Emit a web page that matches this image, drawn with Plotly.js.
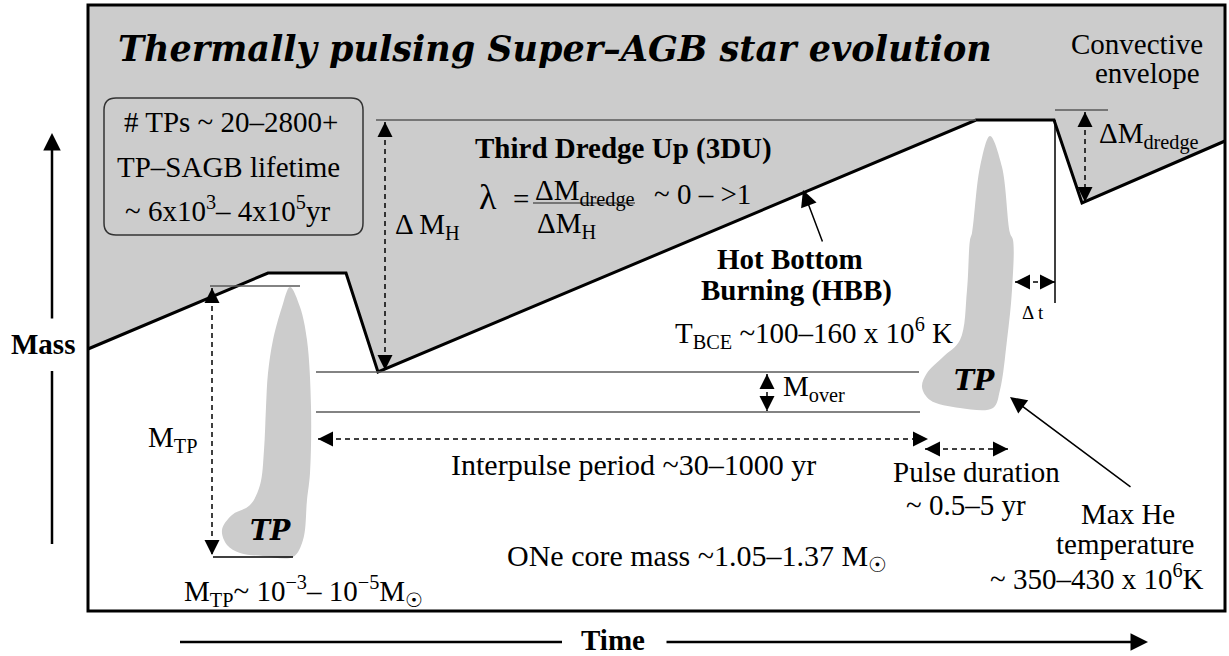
<!DOCTYPE html>
<html><head><meta charset="utf-8">
<script src="https://cdn.plot.ly/plotly-3.0.1.min.js"></script>
<style>html,body{margin:0;padding:0;background:#fff}#chart{width:1229px;height:656px}</style>
</head><body><div id="chart"></div>
<script>
// ---- geometry of the schematic (in picture units) ----
const frameBox = [88, 5, 1225, 611];
const envelopeX = [88, 268, 346, 378, 976, 1054, 1082, 1225];
const envelopeY = [349, 273, 273, 372, 120, 120, 203, 141];
const leftPulseX = [290, 300, 307, 311, 310, 307, 303, 293, 263, 240, 227, 222, 232, 250, 260, 264, 266, 268, 273, 282, 290];
const leftPulseY = [287, 307, 340, 407, 473, 500, 540, 557, 556, 553, 545, 530, 515, 505, 485, 450, 407, 373, 340, 307, 287];
const rightPulseX = [990, 1002, 1010, 1013, 1012, 1007, 1000, 993, 960, 930, 922, 927, 943, 960, 967, 970, 972, 980, 990];
const rightPulseY = [136, 167, 233, 240, 290, 340, 390, 408, 408, 400, 387, 373, 357, 340, 290, 240, 233, 167, 136];
const tpBox = [104, 98, 363, 235];

// thin solid guide lines [x0, y0, x1, y1]
const guideLines = [
  [376, 120, 976, 120], [1055, 110, 1108, 110], [210, 286, 300, 286],
  [316, 372, 919, 372], [316, 412, 920, 412], [533, 203, 635, 203]
];
const blackLines = [[213, 557, 293, 557], [1055, 120, 1055, 303]];
// dashed double arrows
const dashedArrows = [
  [385, 122, 385, 370], [212, 288, 212, 555], [318, 439, 928, 439],
  [925, 449, 1008, 449], [1015, 282, 1055, 282], [767, 374, 767, 411],
  [1085, 112, 1085, 202]
];
// solid single arrows [headX, headY, tailX, tailY, width]
const solidArrows = [
  [803, 190, 823, 243, 1.5], [1010, 397, 1132, 488, 1.5],
  [52, 133, 52, 320, 2.5], [1148, 642, 665, 642, 2.5]
];
const axisLines = [[52, 371, 52, 544], [180, 642, 562, 642]];

// ---- labels ----
const labelText = [
  'Thermally pulsing Super\u2013AGB star evolution',
  'Convective', 'envelope',
  '# TPs ~ 20\u20132800+', 'TP\u2013SAGB lifetime', '~ 6x10<sup>3</sup>\u2013 4x10<sup>5</sup>yr',
  '\u0394 M<sub>H</sub>',
  'Third Dredge Up (3DU)',
  '\u03bb', '=', '\u0394M<sub>dredge</sub>', '\u0394M<sub>H</sub>', '~ 0 \u2013 >1',
  'Hot Bottom', 'Burning (HBB)',
  'T<sub>BCE</sub> ~100\u2013160 x 10<sup>6</sup> K',
  'M<sub>over</sub>',
  'Interpulse period ~30\u20131000 yr',
  'ONe core mass ~1.05\u20131.37 M<sub>\u2609</sub>',
  'Pulse duration', '~ 0.5\u20135 yr',
  'Max He', 'temperature', '~ 350\u2013430 x 10<sup>6</sup>K',
  'M<sub>TP</sub>~ 10<sup>\u22123</sup>\u2013 10<sup>\u22125</sup>M<sub>\u2609</sub>',
  'M<sub>TP</sub>',
  'TP', 'TP',
  '\u0394 t',
  '\u0394M<sub>dredge</sub>',
  'Mass', 'Time'
];
const labelX = [555, 1137, 1147, 231, 228, 227, 393, 623, 488, 521, 533, 566, 702, 790, 796, 673, 781, 633, 697, 976, 966, 1128, 1125, 1097, 182, 146, 270, 974, 1033, 1097, 43, 613];
const labelY = [48, 44, 73, 122, 167, 209, 226, 148, 197, 199, 192, 225, 194, 259, 290, 333, 388, 464, 558, 472, 505, 514, 544, 577, 591, 439, 530, 380, 312, 135, 344, 640];
const labelAnchor = ['center','center','center','center','center','center','left','center','center','center','left','center','center','center','center','left','left','center','center','center','center','center','center','center','left','left','center','center','center','left','center','center'];
const labelSize = [35, 29, 29, 29, 29, 29, 29, 29, 36, 29, 29, 29, 29, 29, 29, 29, 29, 30, 30, 29, 29, 29, 29, 29, 29, 29, 27, 27, 19, 29, 29, 29];
const labelKind = ['title','n','n','n','n','n','n','b','n','n','n','n','n','b','b','n','n','n','n','n','n','n','n','n','n','n','tp','tp','n','n','b','b'];

const SERIF = '"Liberation Serif", "Times New Roman", Times, serif';
const TITLE = '"DejaVu Serif", "Liberation Serif", serif';

const traces = [
  {x: envelopeX.concat([frameBox[2], frameBox[0]]), y: envelopeY.concat([frameBox[1], frameBox[1]]),
   mode: 'lines', fill: 'toself', fillcolor: '#cccccc', line: {width: 0}, hoverinfo: 'skip'},
  {x: leftPulseX, y: leftPulseY, mode: 'lines', fill: 'toself', fillcolor: '#cccccc',
   line: {width: 0, shape: 'spline', smoothing: 1}, hoverinfo: 'skip'},
  {x: rightPulseX, y: rightPulseY, mode: 'lines', fill: 'toself', fillcolor: '#cccccc',
   line: {width: 0, shape: 'spline', smoothing: 1}, hoverinfo: 'skip'},
  {x: envelopeX, y: envelopeY, mode: 'lines', line: {color: '#000', width: 3}, hoverinfo: 'skip'}
];

const shapes = [];
guideLines.forEach(l => shapes.push({type: 'line', xref: 'x', yref: 'y', x0: l[0], y0: l[1], x1: l[2], y1: l[3], line: {color: '#5a5a5a', width: 1.5}}));
blackLines.forEach(l => shapes.push({type: 'line', xref: 'x', yref: 'y', x0: l[0], y0: l[1], x1: l[2], y1: l[3], line: {color: '#000', width: 1.5}}));
dashedArrows.forEach(l => shapes.push({type: 'line', xref: 'x', yref: 'y', x0: l[0], y0: l[1], x1: l[2], y1: l[3], line: {color: '#000', width: 1.5, dash: '5px,4px'}}));
axisLines.forEach(l => shapes.push({type: 'line', xref: 'x', yref: 'y', x0: l[0], y0: l[1], x1: l[2], y1: l[3], line: {color: '#000', width: 2.5}}));
shapes.push({type: 'rect', xref: 'x', yref: 'y', x0: frameBox[0], y0: frameBox[1], x1: frameBox[2], y1: frameBox[3], line: {color: '#000', width: 3}});
const r = 12, b = tpBox;
shapes.push({type: 'path', xref: 'x', yref: 'y', line: {color: '#333', width: 1.5},
  path: `M ${b[0]+r},${b[1]} L ${b[2]-r},${b[1]} Q ${b[2]},${b[1]} ${b[2]},${b[1]+r} L ${b[2]},${b[3]-r} Q ${b[2]},${b[3]} ${b[2]-r},${b[3]} L ${b[0]+r},${b[3]} Q ${b[0]},${b[3]} ${b[0]},${b[3]-r} L ${b[0]},${b[1]+r} Q ${b[0]},${b[1]} ${b[0]+r},${b[1]} Z`});

const annotations = [];
function head(x, y, tx, ty, w, size) {
  const dx = tx - x, dy = ty - y, len = Math.hypot(dx, dy);
  const off = Math.min(12, len / 2);
  annotations.push({x: x, y: y, xref: 'x', yref: 'y', text: '', showarrow: true,
    ax: dx / len * off, ay: dy / len * off, arrowhead: 2, arrowsize: size, arrowwidth: w,
    arrowcolor: '#000', standoff: 0});
}
dashedArrows.forEach(l => { head(l[0], l[1], l[2], l[3], 1.5, 2.0); head(l[2], l[3], l[0], l[1], 1.5, 2.0); });
solidArrows.forEach(a => annotations.push({x: a[0], y: a[1], xref: 'x', yref: 'y', text: '', showarrow: true,
  ax: a[2] - a[0], ay: a[3] - a[1], arrowhead: 2, arrowsize: a[4] > 2 ? 1.4 : 2.2, arrowwidth: a[4], arrowcolor: '#000', standoff: 0}));

labelText.forEach((t, i) => {
  const k = labelKind[i];
  let txt = t, fam = SERIF;
  if (k === 'b') txt = '<b>' + t + '</b>';
  if (k === 'title' || k === 'tp') { txt = '<b><i>' + t + '</i></b>'; fam = TITLE; }
  annotations.push({x: labelX[i], y: labelY[i], xref: 'x', yref: 'y', text: txt, showarrow: false,
    xanchor: labelAnchor[i], yanchor: 'middle', font: {family: fam, size: labelSize[i], color: '#000'}});
});

const layout = {
  width: 1229, height: 656, margin: {l: 0, r: 0, t: 0, b: 0},
  paper_bgcolor: '#fff', plot_bgcolor: '#fff', showlegend: false,
  font: {family: SERIF},
  xaxis: {range: [0, 1229], visible: false, fixedrange: true},
  yaxis: {range: [656, 0], visible: false, fixedrange: true},
  shapes: shapes, annotations: annotations
};
Plotly.newPlot('chart', traces, layout, {staticPlot: true});
</script></body></html>
